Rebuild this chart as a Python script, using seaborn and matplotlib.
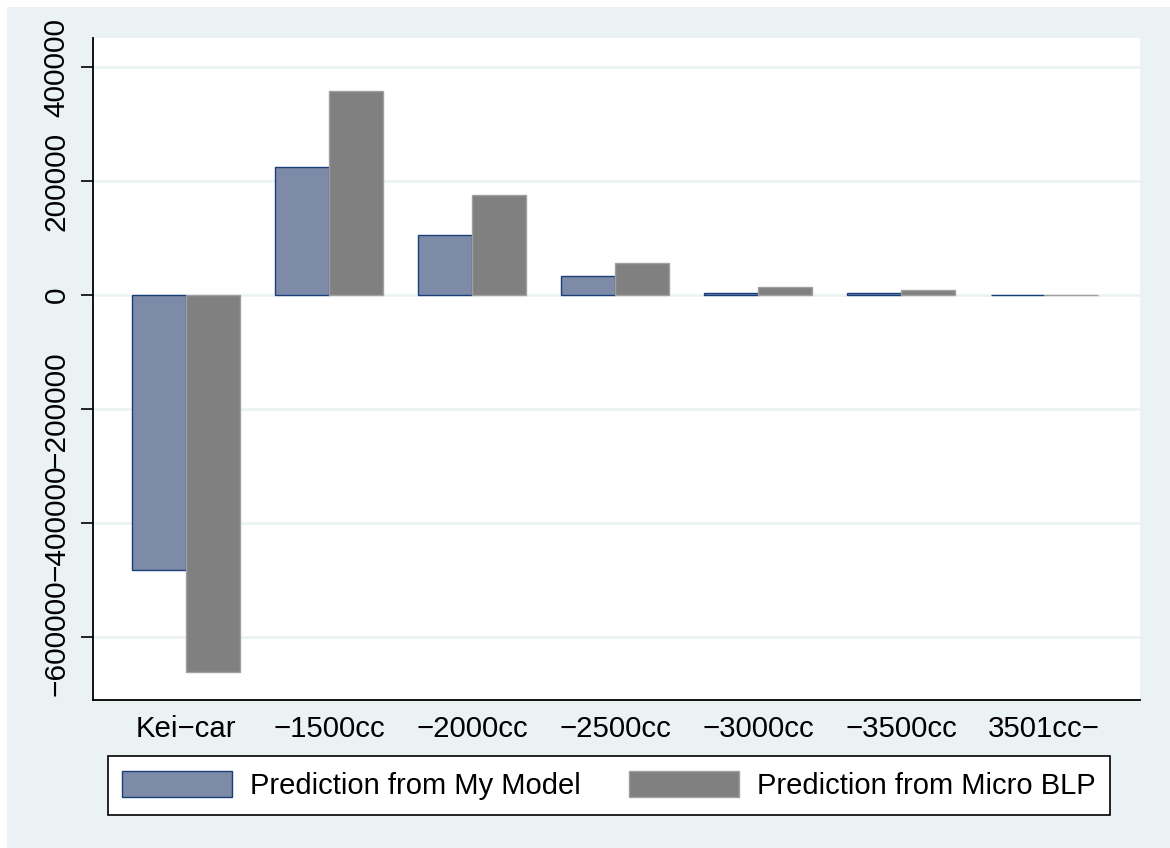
import matplotlib
matplotlib.use("Agg")
import matplotlib.pyplot as plt
import seaborn as sns
import pandas as pd
from matplotlib.patches import Rectangle

categories = ["Kei\u2212car", "\u22121500cc", "\u22122000cc", "\u22122500cc",
              "\u22123000cc", "\u22123500cc", "3501cc\u2212"]
my_model = [-482000, 224500, 105000, 33300, 3500, 3500, 600]
micro_blp = [-661000, 357800, 175400, 56000, 13500, 8800, 500]
series_names = ["Prediction from My Model", "Prediction from Micro BLP"]
yticks = [-600000, -400000, -200000, 0, 200000, 400000]

df = pd.DataFrame({
    "category": categories * 2,
    "value": my_model + micro_blp,
    "series": [series_names[0]] * len(categories) + [series_names[1]] * len(categories),
})

sns.set_style("white")
plt.rcParams["font.family"] = ["Liberation Sans", "DejaVu Sans"]
plt.rcParams["text.color"] = "black"
plt.rcParams["xtick.color"] = "black"
plt.rcParams["ytick.color"] = "black"

BG = "#EAF2F3"
fill_colors = ["#7D8BA9", "#808080"]
edge_colors = ["#1A3F78", "#A0A0A0"]

fig = plt.figure(figsize=(11.7, 8.48), dpi=100, facecolor=BG)
# white strips at top and left edges
fig.patches.append(Rectangle((0, 1 - 7 / 848), 1, 7 / 848, transform=fig.transFigure,
                             facecolor="white", edgecolor="none", zorder=-1))
fig.patches.append(Rectangle((0, 0), 7 / 1170, 1, transform=fig.transFigure,
                             facecolor="white", edgecolor="none", zorder=-1))

ax = fig.add_axes([93 / 1170, 1 - 700 / 848, (1140 - 93) / 1170, (700 - 38) / 848])
ax.set_facecolor("white")

sns.barplot(data=df, x="category", y="value", hue="series", order=categories,
            hue_order=series_names, palette=fill_colors, width=0.75, gap=0,
            saturation=1, ax=ax, legend=False, zorder=3)

for container, ec in zip(ax.containers, edge_colors):
    for bar in container:
        bar.set_edgecolor(ec)
        bar.set_linewidth(1.0)

ax.set_xlim(-0.65, 6.67)
ax.set_ylim(-710000, 451000)
ax.set_yticks(yticks)
ax.set_yticklabels([f"{v}".replace("-", "\u2212") for v in yticks],
                   rotation=90, va="center", fontsize=21.5)
ax.set_xticks(range(len(categories)))
ax.set_xticklabels(categories, fontsize=21.2)
ax.tick_params(axis="y", length=9, width=1.2, pad=7, left=True)
ax.tick_params(axis="x", length=0, pad=11)
ax.set_xlabel("")
ax.set_ylabel("")

ax.yaxis.grid(True, color=BG, linewidth=1.8, zorder=0)
ax.set_axisbelow(True)

for s in ["top", "right"]:
    ax.spines[s].set_visible(False)
for s in ["left", "bottom"]:
    ax.spines[s].set_color("black")
    ax.spines[s].set_linewidth(1.3)

handles = [Rectangle((0, 0), 1, 1, facecolor=fc, edgecolor=ec, linewidth=1.0)
           for fc, ec in zip(fill_colors, edge_colors)]
leg = fig.legend(handles, series_names, ncol=2, fontsize=21.0,
                 loc="center",
                 bbox_to_anchor=((105 + 1113) / 2 / 1170, 1 - 785.5 / 848),
                 frameon=True, fancybox=False, edgecolor="black", framealpha=1,
                 handlelength=3.75, handleheight=1.0, handletextpad=0.64,
                 borderpad=0.5, columnspacing=1.65, borderaxespad=0)
leg.get_frame().set_linewidth(1.2)
leg.get_frame().set_facecolor("white")

fig.savefig("out.png", dpi=100, facecolor=BG)
